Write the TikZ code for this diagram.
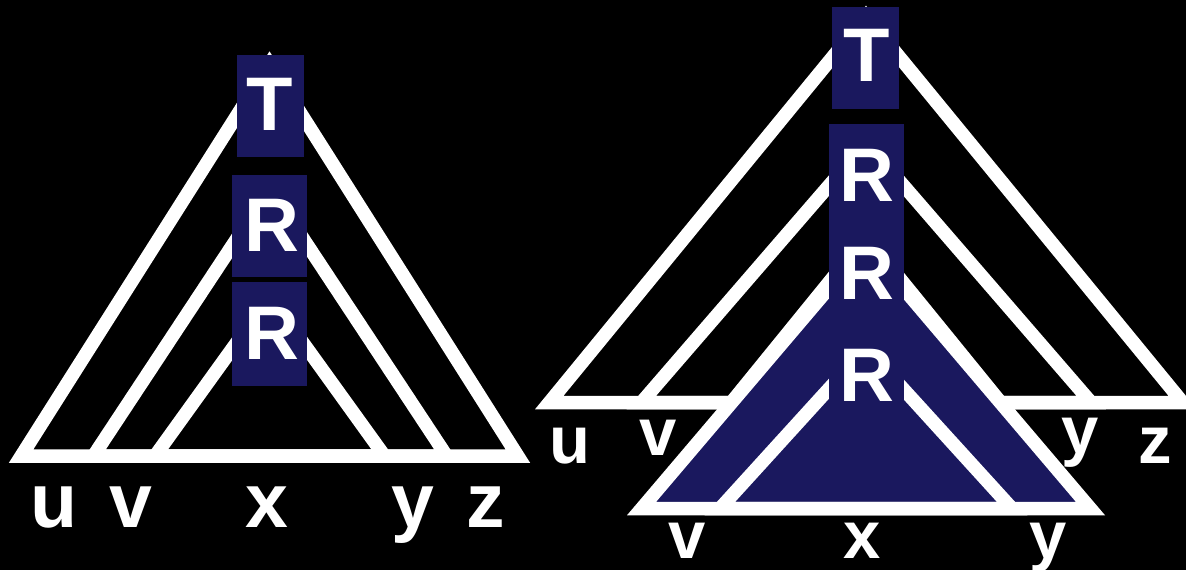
\documentclass[tikz,border=0pt]{standalone}
\usepackage{fontspec}
\setmainfont{Liberation Sans}
\definecolor{navy}{RGB}{26,24,94}
\begin{document}
\begin{tikzpicture}[x=1pt,y=-1pt,
  tri/.style={draw=white,line width=13.5pt,line join=miter,miter limit=20},
  navytri/.style={tri,fill=navy},
  box/.style={fill=navy,draw=none,inner sep=0pt,outer sep=0pt,anchor=north west},
  bigletter/.style={text=white,font=\fontsize{76}{76}\selectfont\bfseries,inner sep=0pt,anchor=base},
  lblL/.style={text=white,font=\fontsize{77}{77}\selectfont\bfseries,inner sep=0pt,anchor=base},
  lblR/.style={text=white,font=\fontsize{67}{67}\selectfont\bfseries,inner sep=0pt,anchor=base}]
\useasboundingbox (0,0) rectangle (1186,570);
\clip (0,0) rectangle (1186,570);
\fill[black] (0,0) rectangle (1186,570);

% ---------- left figure ----------
\draw[tri] (21.2,456) -- (269.5,64) -- (517.8,456) -- cycle;
\draw[tri] (93.4,456) -- (270,188.4) -- (446.6,456) -- cycle;
\draw[tri] (155,456) -- (269.75,296.6) -- (384.5,456) -- cycle;

\node[box,minimum width=67pt,minimum height=102pt] (LT) at (237,55) {};
\node[box,minimum width=75pt,minimum height=102pt] (LR1) at (232,175) {};
\node[box,minimum width=75pt,minimum height=104pt] (LR2) at (232,282) {};
\node[bigletter] (LTt) at (270,130) {T};
\node[bigletter] (LR1t) at (272,251.7) {R};
\node[bigletter] (LR2t) at (272,359) {R};

\node[lblL] (Lu) at (54.5,527) {u};
\node[lblL] (Lv) at (130.5,527) {v};
\node[lblL] (Lx) at (267,527) {x};
\node[lblL] (Ly) at (413,527) {y};
\node[lblL] (Lz) at (486,527) {z};

% ---------- right figure ----------
\draw[tri] (549.3,402.5) -- (866,16.3) -- (1182.7,402.5) -- cycle;
\draw[tri] (641.4,402.5) -- (866.25,142.5) -- (1091.1,402.5) -- cycle;
\draw[tri] (731.3,402.5) -- (866,236.8) -- (1000.7,402.5) -- cycle;
\draw[navytri] (641.6,508.5) -- (866,244.5) -- (1090.4,508.5) -- cycle;
\draw[tri] (720,508.5) -- (866,348) -- (1012,508.5) -- cycle;

\node[box,minimum width=67pt,minimum height=102pt] (RT) at (832,7) {};
\node[box,minimum width=75pt,minimum height=286pt] (RR) at (829,124) {};
\node[bigletter] (RTt) at (866.5,81.7) {T};
\node[bigletter] (RR1t) at (867,201.7) {R};
\node[bigletter] (RR2t) at (867,299) {R};
\node[bigletter] (RR3t) at (867,401.7) {R};

\node[lblR] (Ru) at (569.5,463) {u};
\node[lblR] (Rv) at (658,455) {v};
\node[lblR] (Ry) at (1080,453) {y};
\node[lblR] (Rz) at (1155,463) {z};
\node[lblR] (Rv2) at (686.7,558) {v};
\node[lblR] (Rx2) at (862.5,558) {x};
\node[lblR] (Ry2) at (1048,558) {y};
\end{tikzpicture}
\end{document}
